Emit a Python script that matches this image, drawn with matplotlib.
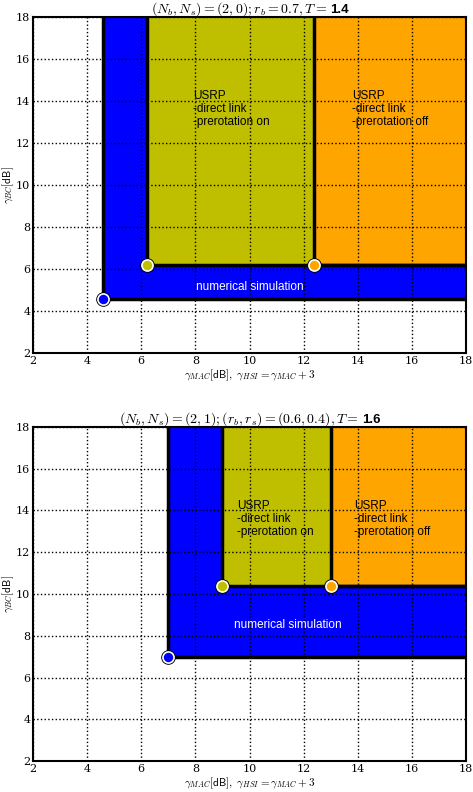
import matplotlib
matplotlib.use("Agg")
import matplotlib.pyplot as plt

plt.rcParams['mathtext.fontset'] = 'cm'
plt.rcParams['font.family'] = 'serif'
plt.rcParams['font.serif'] = ['DejaVu Serif']

# corner points of each region (x = gamma_MAC, y = gamma_BC), per panel
titles = [r'$(N_b, N_s) = (2,0); r_b = 0.7, T = $',
          r'$(N_b, N_s) = (2,1); (r_b, r_s) = (0.6, 0.4), T = $']
title_T = ['1.4', '1.6']
sim_pts = [(4.6, 4.6), (7.0, 7.0)]
on_pts = [(6.2, 6.2), (9.0, 10.4)]
off_pts = [(12.4, 6.2), (13.0, 10.4)]
ticks = [2, 4, 6, 8, 10, 12, 14, 16, 18]

# label anchor points
on_text = [(7.9, 14.5), (9.55, 14.5)]
off_text = [(13.8, 14.5), (13.85, 14.5)]
sim_text = [(10.0, 5.15), (11.4, 8.5)]

blue = '#0000ff'
olive = '#bfbf00'
orange = '#ffa500'

fig = plt.figure(figsize=(4.73, 7.92), dpi=100)
positions = [[0.070, 0.554, 0.915, 0.425], [0.070, 0.039, 0.915, 0.422]]

title_parts = []
for i in range(2):
    ax = fig.add_axes(positions[i])
    regions = [(sim_pts[i], blue), (on_pts[i], olive), (off_pts[i], orange)]
    for (x0, y0), col in regions:
        ax.fill([x0, 18, 18, x0], [y0, y0, 18, 18], color=col, zorder=1)
        ax.plot([x0, x0, 18], [18, y0, y0], color='k', lw=2.5, zorder=3)
    for (x0, y0), col in regions:
        ax.plot(x0, y0, 'o', ms=9.5, color='k', zorder=4)
        ax.plot(x0, y0, 'o', ms=8, color=col, mec='w', mew=1.2, zorder=5)

    ax.set_xlim(2, 18)
    ax.set_ylim(2, 18)
    ax.set_xticks(ticks)
    ax.set_yticks(ticks)
    ax.grid(True, color='k', linestyle=':', lw=1.0, zorder=2)
    ax.set_axisbelow(False)
    ax.tick_params(labelsize=8, length=0, pad=2)
    for sp in ax.spines.values():
        sp.set_linewidth(1.5)
        sp.set_zorder(6)

    # title: math part plus a bold sans value, centred together later
    t1 = ax.text(0.5, 1.012, titles[i], transform=ax.transAxes, fontsize=10,
                 ha='left', va='baseline')
    t2 = ax.text(0.5, 1.012, title_T[i], transform=ax.transAxes, family='Liberation Sans',
                 fontweight='bold', fontsize=9.5, ha='left', va='baseline')
    title_parts.append((ax, t1, t2))

    ax.set_xlabel(r'$\gamma_{MAC}\mathsf{[dB]},\ \gamma_{HSI} = \gamma_{MAC} + 3$',
                  fontsize=8, labelpad=1)
    ax.set_ylabel(r'$\gamma_{BC}\mathsf{[dB]}$', fontsize=8, labelpad=0)

    sans = dict(family='Liberation Sans', fontsize=8.5, va='top', ha='left', zorder=7)
    ax.text(on_text[i][0], on_text[i][1], 'USRP\n-direct link\n-prerotation on',
            color='k', linespacing=1.1, **sans)
    ax.text(off_text[i][0], off_text[i][1], 'USRP\n-direct link\n-prerotation off',
            color='k', linespacing=1.1, **sans)
    ax.text(sim_text[i][0], sim_text[i][1], 'numerical simulation', color='w',
            family='Liberation Sans', fontsize=8.5, ha='center', va='center', zorder=7)

# centre the two title pieces over each axes
fig.canvas.draw()
r = fig.canvas.get_renderer()
for ax, t1, t2 in title_parts:
    w1 = t1.get_window_extent(r).width
    w2 = t2.get_window_extent(r).width
    axw = ax.get_window_extent(r).width
    x0 = 0.5 - (w1 + w2 + 3) / 2 / axw
    t1.set_x(x0)
    t2.set_x(x0 + (w1 + 3) / axw)

fig.savefig('out.png', dpi=100)
